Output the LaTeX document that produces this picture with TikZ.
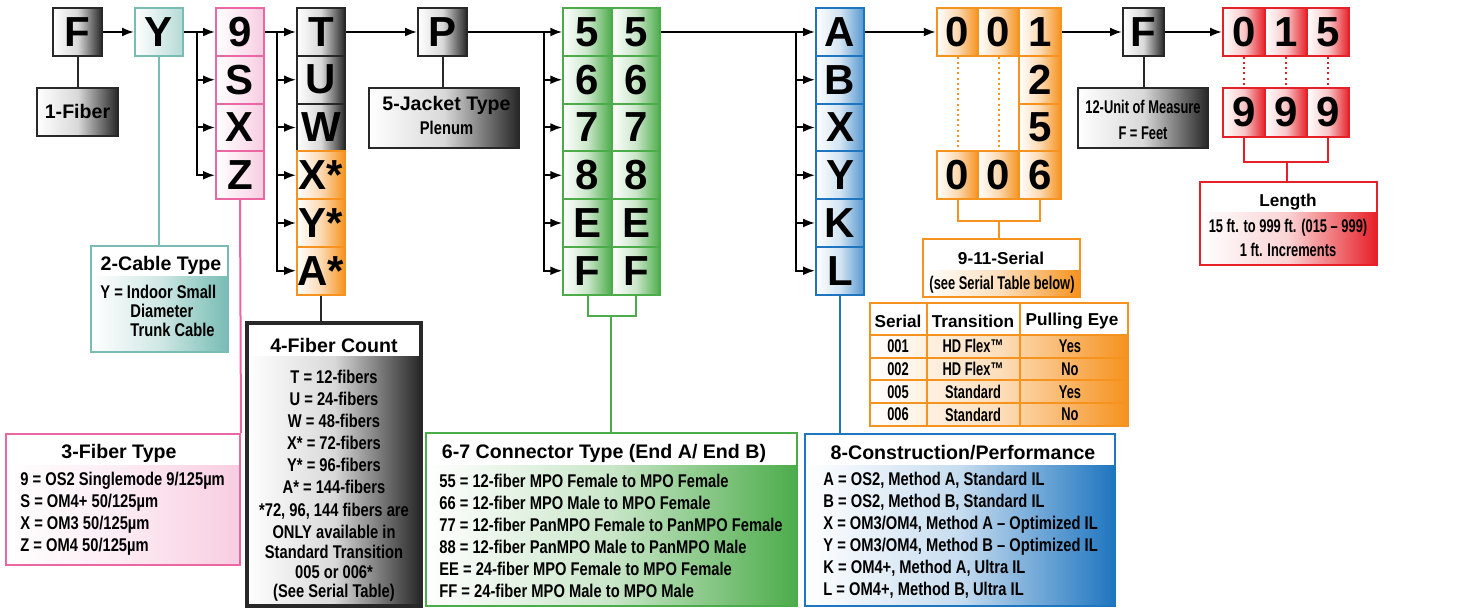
\documentclass[tikz,border=0pt]{standalone}
\usepackage{fontspec}
\setmainfont{Liberation Sans}
\newfontfamily\condfont[FakeStretch=0.8]{Liberation Sans}
\newfontfamily\narrowfont[FakeStretch=0.7]{Liberation Sans}
\usetikzlibrary{arrows.meta}
\definecolor{drk}{RGB}{40,40,40}
\colorlet{shd}{black!85}
\definecolor{tealc}{RGB}{120,188,180}
\definecolor{pnk}{RGB}{236,102,164}
\definecolor{pnkf}{RGB}{248,205,225}
\definecolor{orng}{RGB}{246,146,30}
\definecolor{grn}{RGB}{76,172,74}
\definecolor{blu}{RGB}{30,117,192}
\definecolor{rd}{RGB}{230,32,40}
\tikzset{
	cell/.style={draw=#1, line width=1pt, inner sep=0pt, minimum width=24pt, minimum height=23.875pt, font=\fontsize{21}{21}\selectfont\bfseries},
	gcell/.style={cell=drk, left color=white, right color=shd, middle color=black!15},
	tcell/.style={cell=tealc, left color=white, right color=tealc!55!white},
	pcell/.style={cell=pnk, left color=white, right color=pnkf},
	ocell/.style={cell=orng, left color=white, right color=orng, middle color=orng!35!white},
	grcell/.style={cell=grn, left color=white, right color=grn, middle color=grn!30!white},
	bcell/.style={cell=blu, left color=white, right color=blu!75!white, middle color=blu!20!white},
	rcell/.style={cell=rd, left color=white, right color=rd, middle color=rd!25!white},
	box/.style={draw=#1, line width=1pt, fill=white, inner sep=0pt},
	body/.style n args={3}{path picture={\shade[left color=white, right color=#1, middle color=#2] ([yshift=-#3]path picture bounding box.north west) rectangle (path picture bounding box.south east);}},
	ttl/.style={inner sep=0pt, font=\fontsize{9.8}{12}\selectfont\bfseries},
	ttlb/.style={inner sep=0pt, font=\fontsize{8.6}{10}\selectfont\bfseries},
	txt/.style={inner sep=0pt, font=\condfont\bfseries\fontsize{9.2}{11}\selectfont},
	ntxt/.style={inner sep=0pt, font=\narrowfont\bfseries\fontsize{9.2}{11}\selectfont},
	arr/.style={line width=1pt, -{Latex[length=6pt,width=4.5pt]}},
	lnk/.style={line width=1pt},
	dots/.style={line width=1pt, dash pattern=on 1pt off 1.6pt}
}
\begin{document}
\begin{tikzpicture}[x=0.5pt, y=-0.5pt]
	\useasboundingbox (0,0) rectangle (1460,608);
	\node[gcell, minimum width=24.5pt] (F) at (77.5,32) {F};
	\node[tcell] (Y) at (159,32) {Y};
	\foreach \t [count=\i] in {9,S,X,Z}
		\node[pcell] (ft\i) at (240,{32+47.75*(\i-1)}) {\t};
	\foreach \t [count=\i] in {T,U,W}
		\node[gcell] (fc\i) at (321,{32+47.75*(\i-1)}) {\t};
	\foreach \t [count=\i from 4] in {X*,Y*,A*}
		\node[ocell] (fc\i) at (321,{32+47.75*(\i-1)}) {\t};
	\node[gcell, minimum width=24.5pt] (P) at (442.5,32) {P};
	\foreach \t [count=\i] in {5,6,7,8,E,F} {
		\node[grcell, minimum width=24.25pt] (ca\i) at (587.5,{32+47.75*(\i-1)}) {\t};
		\node[grcell, minimum width=24.25pt] (cb\i) at (636,{32+47.75*(\i-1)}) {\t};
	}
	\foreach \t [count=\i] in {A,B,X,Y,K,L}
		\node[bcell] (bl\i) at (840,{32+47.75*(\i-1)}) {\t};
	\node[ocell, minimum width=20.75pt] (sa1) at (957.5,32) {0};
	\node[ocell, minimum width=20.75pt] (sb1) at (998.5,32) {0};
	\node[ocell, minimum width=20.75pt] (sc1) at (1040,32) {1};
	\node[ocell, minimum width=20.75pt] (sc2) at (1040,79.75) {2};
	\node[ocell, minimum width=20.75pt] (sc3) at (1040,127.5) {5};
	\node[ocell, minimum width=20.75pt] (sa4) at (957.5,175.25) {0};
	\node[ocell, minimum width=20.75pt] (sb4) at (998.5,175.25) {0};
	\node[ocell, minimum width=20.75pt] (sc4) at (1040,175.25) {6};
	\node[gcell, minimum width=20.5pt] (U) at (1143.5,32) {F};
	\node[rcell, minimum width=21pt] (ra1) at (1244,32) {0};
	\node[rcell, minimum width=21pt] (rb1) at (1286,32) {1};
	\node[rcell, minimum width=21pt] (rc1) at (1328,32) {5};
	\node[rcell, minimum width=21pt, minimum height=24.5pt] (ra2) at (1244,112.5) {9};
	\node[rcell, minimum width=21pt, minimum height=24.5pt] (rb2) at (1286,112.5) {9};
	\node[rcell, minimum width=21pt, minimum height=24.5pt] (rc2) at (1328,112.5) {9};

	\draw[arr] (F) -- (Y);
	\coordinate (yb) at (197,32);
	\draw[arr] (Y) -- (ft1);
	\foreach \i in {2,3,4} \draw[arr] (yb) |- (ft\i);
	\coordinate (tb) at (277,32);
	\draw[arr] (ft1) -- (fc1);
	\foreach \i in {2,...,6} \draw[arr] (tb) |- (fc\i);
	\draw[arr] (fc1) -- (P);
	\coordinate (pb) at (544,32);
	\draw[arr] (P) -- (ca1);
	\foreach \i in {2,...,6} \draw[arr] (pb) |- (ca\i);
	\coordinate (gb) at (796,32);
	\draw[arr] (cb1) -- (bl1);
	\foreach \i in {2,...,6} \draw[arr] (gb) |- (bl\i);
	\draw[arr] (bl1) -- (sa1);
	\draw[arr] (sc1) -- (U);
	\draw[arr] (U) -- (ra1);

	\node[box=drk, body={shd}{black!15}{0pt}, minimum width=40.5pt, minimum height=24pt] (fib) at (77.5,112) {};
	\node[ttl] at (fib) {1-Fiber};
	\draw[lnk, drk] (F.south) -- (fib.north);

	\node[box=tealc, body={tealc}{tealc!35!white}{15.5pt}, minimum width=68.5pt, minimum height=53pt] (cab) at (159.5,299) {};
	\node[ttl] at (161,265) {2-Cable Type};
	\node[txt, anchor=west] at (100,292) {Y = Indoor Small};
	\node[txt, anchor=west] at (130,311) {Diameter};
	\node[txt, anchor=west] at (130,330) {Trunk Cable};
	\draw[lnk, tealc] (Y.south) -- (Y.south |- cab.north);

	\node[box=pnk, body={pnkf}{pnkf!40!white}{16pt}, minimum width=117pt, minimum height=65.5pt] (ftype) at (123,499.5) {};
	\node[ttl] at (119,453) {3-Fiber Type};
	\foreach \s [count=\i] in {9 = OS2 Singlemode 9/125µm, S = OM4+ 50/125µm, X = OM3 50/125µm, Z = OM4 50/125µm}
		\node[txt, anchor=west] at (20,{459+22*\i}) {\s};
	\draw[lnk, pnk] (ft4.south) -- (ftype.north east);

	\node[box=drk, line width=1.6pt, body={shd}{black!15}{17pt}, minimum width=87pt, minimum height=141.5pt] (fcount) at (334,464.5) {};
	\node[ttl] at (334,345) {4-Fiber Count};
	\foreach \s [count=\i] in {T = 12-fibers, U = 24-fibers, W = 48-fibers, X* = 72-fibers, Y* = 96-fibers, A* = 144-fibers}
		\node[txt] at (334,{355+22*\i}) {\s};
	\foreach \s [count=\i] in {{*72, 96, 144 fibers are}, ONLY available in, Standard Transition, 005 or 006*, (See Serial Table)}
		\node[txt] at (334,{490.5+20.5*\i}) {\s};
	\draw[lnk, drk] (fc6.south) -- (fc6.south |- fcount.north);

	\node[box=drk, body={shd}{black!15}{0pt}, minimum width=75pt, minimum height=30pt] (jack) at (444,118) {};
	\node[ttl] at (446.5,105) {5-Jacket Type};
	\node[txt] at (446.5,128) {Plenum};
	\draw[lnk, drk] (P.south) -- (P.south |- jack.north);

	\node[box=grn, body={grn}{grn!30!white}{16.5pt}, minimum width=185.5pt, minimum height=86.5pt] (conn) at (611.5,519.5) {};
	\node[ttl] at (604,453) {6-7 Connector Type (End A/ End B)};
	\foreach \s [count=\i] in {55 = 12-fiber MPO Female to MPO Female, 66 = 12-fiber MPO Male to MPO Female, 77 = 12-fiber PanMPO Female to PanMPO Female, 88 = 12-fiber PanMPO Male to PanMPO Male, EE = 24-fiber MPO Female to MPO Female, FF = 24-fiber MPO Male to MPO Male}
		\node[txt, anchor=west] at (439,{458.5+22*\i}) {\s};
	\coordinate (gm) at (611,316);
	\draw[lnk, grn] (ca6.south) |- (gm) -| (cb6.south);
	\draw[lnk, grn] (gm) -- (gm |- conn.north);

	\node[box=blu, body={blu}{blu!25!white}{16pt}, minimum width=155pt, minimum height=86pt] (constr) at (960,520) {};
	\node[ttl] at (963,453) {8-Construction/Performance};
	\foreach \s [count=\i] in {{A = OS2, Method A, Standard IL}, {B = OS2, Method B, Standard IL}, {X = OM3/OM4, Method A – Optimized IL}, {Y = OM3/OM4, Method B – Optimized IL}, {K = OM4+, Method A, Ultra IL}, {L = OM4+, Method B, Ultra IL}}
		\node[txt, anchor=west] at (823,{458.5+22*\i}) {\s};
	\draw[lnk, blu] (bl6.south) -- (bl6.south |- constr.north);

	\draw[dots, orng] (sa1.south) -- (sa4.north);
	\draw[dots, orng] (sb1.south) -- (sb4.north);
	\node[box=orng, body={orng}{orng!30!white}{16pt}, minimum width=78.5pt, minimum height=29pt] (serial) at (1001.5,268) {};
	\node[ttlb] at (1001,258) {9-11-Serial};
	\node[ntxt] at (1002,285) {(see Serial Table below)};
	\coordinate (om) at (999,221);
	\draw[lnk, orng] (sa4.south) |- (om) -| (sc4.south);
	\draw[lnk, orng] (om) -- (om |- serial.north);

	\shade[left color=white, right color=orng, middle color=orng!30!white] (870,335) rectangle (1128,426);
	\draw[lnk, orng] (870,303) rectangle (1128,426);
	\foreach \yy in {335,357.75,380.5,403.25} \draw[lnk, orng] (870,\yy) -- (1128,\yy);
	\foreach \xx in {927,1020} \draw[lnk, orng] (\xx,303) -- (\xx,426);
	\node[ttlb] at (898,321) {Serial};
	\node[ttlb] at (973,321) {Transition};
	\node[ttlb] at (1072,321) {Pulling Eye};
	\foreach \a/\b/\c [count=\i] in {001/HD Flex™/Yes, 002/HD Flex™/No, 005/Standard/Yes, 006/Standard/No} {
		\node[ntxt] at (898,{323.6+22.75*\i}) {\a};
		\node[ntxt] at (973,{323.6+22.75*\i}) {\b};
		\node[ntxt] at (1070,{323.6+22.75*\i}) {\c};
	}

	\node[box=drk, body={shd}{black!15}{0pt}, minimum width=65pt, minimum height=30pt] (unit) at (1143,118) {};
	\node[ntxt] at (1143,107) {12-Unit of Measure};
	\node[ntxt] at (1143,133) {F = Feet};
	\draw[lnk, drk] (U.south) -- (U.south |- unit.north);

	\foreach \a in {a,b,c} \draw[dots, rd] (r\a1.south) -- (r\a2.north);
	\node[box=rd, body={rd}{rd!20!white}{15.5pt}, minimum width=88.5pt, minimum height=41.5pt] (len) at (1288.5,223.5) {};
	\node[ttlb] at (1288,202) {Length};
	\node[ntxt] at (1288,228) {15 ft. to 999 ft. (015 – 999)};
	\node[ntxt] at (1288,250) {1 ft. Increments};
	\coordinate (rm) at (1287,162);
	\draw[lnk, rd] (ra2.south) |- (rm) -| (rc2.south);
	\draw[lnk, rd] (rm) -- (rm |- len.north);
\end{tikzpicture}
\end{document}
